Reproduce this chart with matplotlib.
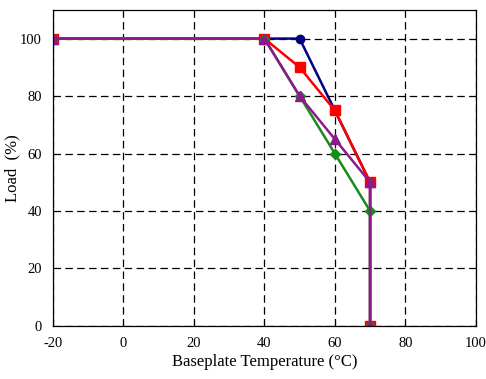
import matplotlib.pyplot as plt

plt.rcParams['font.family'] = ['Liberation Serif', 'DejaVu Serif']
plt.rcParams['axes.unicode_minus'] = False

temp = [-20, 40, 50, 60, 70, 70]
load_blue = [100, 100, 100, 75, 50, 0]
load_red = [100, 100, 90, 75, 50, 0]
load_green = [100, 100, 80, 60, 40, 0]
load_purple = [100, 100, 80, 65, 50, 0]

xticks = [-20, 0, 20, 40, 60, 80, 100]
yticks = [0, 20, 40, 60, 80, 100]

fig = plt.figure(figsize=(4.86, 3.79), dpi=100)
ax = fig.add_axes([0.109, 0.140, 0.870, 0.834])

ax.plot(temp, load_blue, color='#000080', marker='o', ms=6, lw=1.8)
ax.plot(temp, load_red, color='#ff0000', marker='s', ms=7, lw=1.8)
ax.plot(temp, load_green, color='#1a8a1a', marker='D', ms=5, lw=1.8)
ax.plot(temp, load_purple, color='#8b1a8b', marker='^', ms=7, lw=1.8)

ax.set_xlim(-20, 100)
ax.set_ylim(0, 110)
ax.set_xticks(xticks)
ax.set_yticks(yticks)
ax.grid(True, color='black', linestyle=(0, (6, 3.5)), linewidth=0.9)
ax.tick_params(direction='in', length=4, labelsize=10.5, pad=8)
ax.tick_params(axis='y', length=0, pad=8)
for s in ax.spines.values():
    s.set_linewidth(0.9)

ax.set_xlabel('Baseplate Temperature (°C)', fontsize=12, labelpad=3)
ax.set_ylabel('Load  (%)', fontsize=12)
ax.yaxis.set_label_coords(-0.077, 0.5)

fig.savefig('out.png', dpi=100)
